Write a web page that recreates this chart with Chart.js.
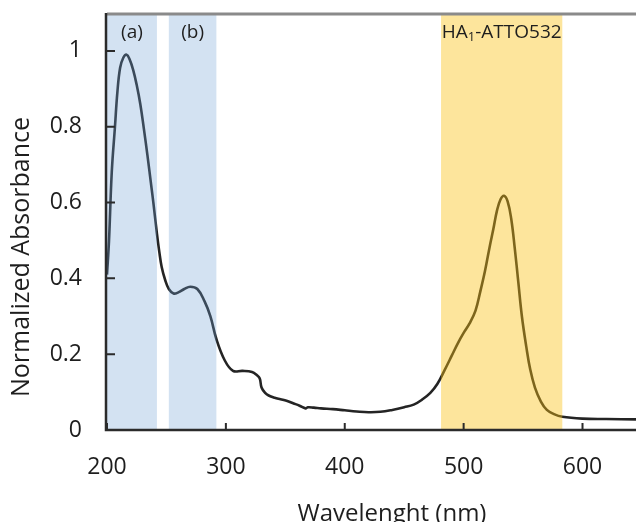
<!DOCTYPE html>
<html>
<head>
<meta charset="utf-8">
<script src="https://cdn.jsdelivr.net/npm/chart.js@4.4.1/dist/chart.umd.min.js"></script>
<style>
  html, body { margin: 0; padding: 0; background: #fff; overflow: hidden; }
  #wrap { width: 636px; height: 522px; }
</style>
</head>
<body>
<div id="wrap"><canvas id="spectrum"></canvas></div>
<script>
const wavelength = [
  200, 201.7, 204, 206.7, 208.7, 211, 213.7, 216.5, 219, 222, 225, 228, 231, 234, 237, 239,
  242, 244, 246, 249, 252, 256, 260, 265, 270, 276, 282, 287, 292, 299, 306, 314,
  322, 326, 328.5, 330, 333, 336, 341, 346, 351, 357, 362, 367, 369, 374, 380, 390,
  400, 410, 420, 430, 440, 450, 458, 465, 472, 478, 484, 490, 495, 500, 505, 510,
  514, 518, 522, 525, 528, 531, 534, 537, 540, 543, 546, 549, 552.7,
  556, 560, 565, 570, 576, 583, 600, 620, 645,
];
const absorbance = [
  0.41, 0.5, 0.68, 0.8, 0.89, 0.955, 0.982, 0.99, 0.978, 0.95, 0.91, 0.86, 0.795, 0.725, 0.65, 0.6,
  0.518, 0.47, 0.43, 0.395, 0.372, 0.36, 0.363, 0.372, 0.378, 0.372, 0.34, 0.3, 0.24, 0.184, 0.156, 0.156,
  0.153, 0.145, 0.136, 0.112, 0.098, 0.091, 0.085, 0.081, 0.077, 0.07, 0.064, 0.057, 0.06, 0.059, 0.057, 0.055,
  0.052, 0.049, 0.047, 0.048, 0.053, 0.06, 0.067, 0.08, 0.098, 0.122, 0.158, 0.196, 0.228, 0.256, 0.281, 0.315,
  0.365, 0.42, 0.485, 0.53, 0.578, 0.608, 0.618, 0.603, 0.558, 0.48, 0.39, 0.3, 0.22,
  0.16, 0.112, 0.075, 0.053, 0.042, 0.035, 0.03, 0.029, 0.028,
];
const xTicks = [200, 300, 400, 500, 600];
const yTicks = [0, 0.2, 0.4, 0.6, 0.8, 1];

// highlighted wavelength ranges (nm)
const bandStart = [200, 252, 481];
const bandEnd = [242, 292, 583];
const bandLabels = ["(a)", "(b)", "HA_1-ATTO532"];

const FONT = "'Open Sans', 'DejaVu Sans', sans-serif";

function drawLabel(ctx, text, cx, baseline) {
  // "_1" marks a subscript digit
  const parts = text.split("_");
  const segs = [{ t: parts[0], sub: false }];
  if (parts.length > 1) {
    segs.push({ t: parts[1][0], sub: true });
    segs.push({ t: parts[1].slice(1), sub: false });
  }
  const widthOf = (s) => {
    ctx.font = s.sub ? `13px ${FONT}` : `19px ${FONT}`;
    return ctx.measureText(s.t).width;
  };
  const total = segs.reduce((w, s) => w + widthOf(s), 0);
  let x = cx - total / 2;
  ctx.textAlign = "left";
  ctx.textBaseline = "alphabetic";
  segs.forEach((s) => {
    const w = widthOf(s);
    ctx.fillText(s.t, x, s.sub ? baseline + 3 : baseline);
    x += w;
  });
}

const overlay = {
  id: "overlay",
  afterDatasetsDraw(chart) {
    const { ctx, chartArea: a, scales: { x, y } } = chart;
    ctx.save();

    bandStart.forEach((s, i) => {
      const x0 = x.getPixelForValue(s);
      const x1 = x.getPixelForValue(bandEnd[i]);
      ctx.fillStyle = i < 2 ? "rgba(112, 162, 212, 0.31)" : "rgba(251, 192, 20, 0.42)";
      ctx.fillRect(x0, a.top, x1 - x0, a.bottom - a.top);
    });

    ctx.fillStyle = "#1e1e1e";
    bandStart.forEach((s, i) => {
      const cx = (x.getPixelForValue(s) + x.getPixelForValue(bandEnd[i])) / 2;
      drawLabel(ctx, bandLabels[i], cx, 38);
    });

    // frame
    ctx.strokeStyle = "#8a8a8a";
    ctx.lineWidth = 3;
    ctx.beginPath();
    ctx.moveTo(a.left, a.top + 1);
    ctx.lineTo(chart.width, a.top + 1);
    ctx.stroke();

    ctx.strokeStyle = "#2b2b2b";
    ctx.lineWidth = 2.5;
    ctx.beginPath();
    ctx.moveTo(a.left - 1, a.top);
    ctx.lineTo(a.left - 1, a.bottom);
    ctx.lineTo(chart.width, a.bottom);
    ctx.stroke();

    // inward ticks
    ctx.lineWidth = 2;
    ctx.beginPath();
    x.ticks.forEach((t) => {
      const px = x.getPixelForValue(t.value);
      ctx.moveTo(px, a.bottom);
      ctx.lineTo(px, a.bottom - 7);
    });
    y.ticks.forEach((t) => {
      const py = y.getPixelForValue(t.value);
      ctx.moveTo(a.left, py);
      ctx.lineTo(a.left + 8, py);
    });
    ctx.stroke();

    // axis titles
    ctx.fillStyle = "#1e1e1e";
    ctx.textAlign = "center";
    ctx.textBaseline = "middle";
    ctx.font = `24px ${FONT}`;
    ctx.fillText("Wavelenght (nm)", 392, 514);
    ctx.font = `25px ${FONT}`;
    ctx.translate(22, 257);
    ctx.rotate(-Math.PI / 2);
    ctx.fillText("Normalized Absorbance", 0, 0);
    ctx.restore();
  },
};

new Chart(document.getElementById("spectrum"), {
  type: "scatter",
  data: {
    datasets: [
      {
        data: wavelength.map((w, i) => ({ x: w, y: absorbance[i] })),
        showLine: true,
        borderColor: "#242424",
        borderWidth: 2.6,
        pointRadius: 0,
        tension: 0.4,
      },
    ],
  },
  options: {
    responsive: true,
    maintainAspectRatio: false,
    animation: false,
    events: [],
    layout: { padding: { top: 13, left: 0, right: 0, bottom: 0 } },
    plugins: { legend: { display: false }, tooltip: { enabled: false } },
    scales: {
      x: {
        type: "linear",
        min: 200,
        max: 645,
        afterBuildTicks: (s) => { s.ticks = xTicks.map((v) => ({ value: v })); },
        afterFit: (s) => { s.height = 92; s.paddingLeft = 0; s.paddingRight = 0; },
        grid: { display: false, drawTicks: false },
        border: { display: false },
        ticks: {
          padding: 24,
          maxRotation: 0,
          color: "#1e1e1e",
          font: { family: FONT, size: 23 },
        },
      },
      y: {
        min: 0,
        max: 1.1,
        afterBuildTicks: (s) => { s.ticks = yTicks.map((v) => ({ value: v })); },
        afterFit: (s) => { s.width = 107; s.paddingTop = 0; s.paddingBottom = 0; },
        grid: { display: false, drawTicks: false },
        border: { display: false },
        ticks: {
          padding: 25,
          color: "#1e1e1e",
          font: { family: FONT, size: 23 },
          callback: (v) => String(+v.toFixed(1)),
        },
      },
    },
  },
  plugins: [overlay],
});
</script>
</body>
</html>
